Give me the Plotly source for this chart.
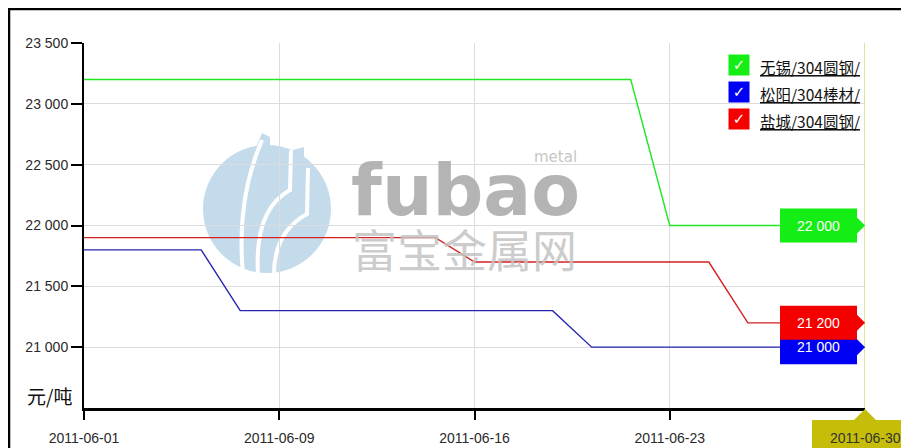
import plotly.graph_objects as go

# ---------------- data ----------------
dates = ["2011-06-01", "2011-06-02", "2011-06-03", "2011-06-07", "2011-06-08",
         "2011-06-09", "2011-06-10", "2011-06-13", "2011-06-14", "2011-06-15",
         "2011-06-16", "2011-06-17", "2011-06-20", "2011-06-21", "2011-06-22",
         "2011-06-23", "2011-06-24", "2011-06-27", "2011-06-28", "2011-06-29",
         "2011-06-30"]

wuxi = [23200, 23200, 23200, 23200, 23200, 23200, 23200, 23200, 23200, 23200,
        23200, 23200, 23200, 23200, 23200, 22000, 22000, 22000, 22000, 22000,
        22000]
songyang = [21800, 21800, 21800, 21800, 21300, 21300, 21300, 21300, 21300, 21300,
            21300, 21300, 21300, 21000, 21000, 21000, 21000, 21000, 21000, 21000,
            21000]
yancheng = [21900, 21900, 21900, 21900, 21900, 21900, 21900, 21900, 21900, 21900,
            21700, 21700, 21700, 21700, 21700, 21700, 21700, 21200, 21200, 21200,
            21200]

series_names = ["无锡/304圆钢/", "松阳/304棒材/", "盐城/304圆钢/"]
line_colors = ["#22e622", "#2424b0", "#d42020"]
flag_colors = ["#14ee14", "#0000f5", "#f50000"]

x_tick_labels = ["2011-06-01", "2011-06-09", "2011-06-16", "2011-06-23", "2011-06-30"]
y_ticks = [21000, 21500, 22000, 22500, 23000, 23500]
y_range = [20500, 23500]
y_unit = "元/吨"

# ---------------- layout helpers ----------------
# page body has an 8px default margin; work in window pixel coords
OFF = 8
WIN_W, WIN_H = 909, 448
W, H = WIN_W - OFF, WIN_H - OFF
L, R, T, B = 84, 865, 43, 408   # plot area in window pixels


def px(x):
    return (x - L) / (R - L)


def py(y):
    return (B - y) / (B - T)


fig = go.Figure()
all_series = [wuxi, songyang, yancheng]
for name, vals, col in zip(series_names, all_series, line_colors):
    fig.add_trace(go.Scatter(x=dates, y=vals, mode="lines", name=name,
                             line=dict(color=col, width=1.4), showlegend=False))

shapes = []
annotations = []

# outer frame (partially visible)
shapes.append(dict(type="rect", xref="paper", yref="paper",
                   x0=px(9), x1=px(1200), y0=py(700), y1=py(9),
                   line=dict(color="#000000", width=2.5), layer="below"))

# watermark logo circle with white stripes
logo_fill = "#c4dbeb"
shapes.append(dict(type="circle", xref="paper", yref="paper",
                   x0=px(203), x1=px(331), y0=py(273), y1=py(145),
                   fillcolor=logo_fill, line=dict(width=0), layer="below"))
shapes.append(dict(type="path", xref="paper", yref="paper",
                   path=f"M{px(262)},{py(133)} L{px(270)},{py(137)} L{px(270)},{py(150)} L{px(255)},{py(150)} Z",
                   fillcolor=logo_fill, line=dict(width=0), layer="below"))
shapes.append(dict(type="path", xref="paper", yref="paper",
                   path=f"M{px(293)},{py(150)} L{px(304)},{py(147)} L{px(304)},{py(160)} L{px(293)},{py(160)} Z",
                   fillcolor=logo_fill, line=dict(width=0), layer="below"))
for path in [
    f"M{px(243)},{py(274)} Q{px(236)},{py(200)} {px(262)},{py(140)}",
    f"M{px(258)},{py(274)} Q{px(254)},{py(210)} {px(290)},{py(190)} L{px(291)},{py(150)}",
    f"M{px(274)},{py(274)} Q{px(274)},{py(232)} {px(307)},{py(214)} L{px(308)},{py(168)}",
]:
    shapes.append(dict(type="path", xref="paper", yref="paper", path=path,
                       line=dict(color="white", width=4), layer="below"))

wm_col = "rgba(172,172,172,0.9)"
annotations.append(dict(xref="paper", yref="paper", x=px(349), y=py(190),
                        xanchor="left", yanchor="middle", text="<b>fubao</b>", showarrow=False,
                        font=dict(family="DejaVu Sans", size=71, color=wm_col)))
annotations.append(dict(xref="paper", yref="paper", x=px(579), y=py(157),
                        xanchor="right", yanchor="middle", text="metal", showarrow=False,
                        font=dict(family="DejaVu Sans", size=15, color="rgba(190,190,190,0.9)")))
annotations.append(dict(xref="paper", yref="paper", x=px(350), y=py(248),
                        xanchor="left", yanchor="middle", text="富宝金属网", showarrow=False,
                        font=dict(family="Noto Sans CJK SC", size=45, color="rgba(195,195,195,0.85)")))

# crosshair at last date
shapes.append(dict(type="line", xref="x", yref="paper", x0=len(dates) - 1, x1=len(dates) - 1,
                   y0=0, y1=1, line=dict(color="#cfcf60", width=1.2), layer="above"))

# value flags at the crosshair (blue first, then red above, green)
order = [1, 2, 0]
for i in order:
    v = all_series[i][-1]
    shapes.append(dict(type="path", xref="paper", yref="y",
                       xsizemode="pixel", ysizemode="pixel",
                       xanchor=1, yanchor=v,
                       path="M-85,-17 L-8,-17 L-8,-8 L0,0 L-8,8 L-8,17 L-85,17 Z",
                       fillcolor=flag_colors[i], line=dict(width=0), layer="above"))
    annotations.append(dict(xref="x", yref="y", x=len(dates) - 1, y=v, xshift=-47,
                            xanchor="center", yanchor="middle",
                            text=f"{v:,}".replace(",", " "), showarrow=False,
                            font=dict(family="Liberation Sans", size=14, color="white")))

# date flag at bottom (covers the last tick label)
shapes.append(dict(type="path", xref="paper", yref="paper",
                   xsizemode="pixel", ysizemode="pixel",
                   xanchor=1, yanchor=0,
                   path="M-53,-12 L-11,-12 L0,-1 L11,-12 L60,-12 L60,-50 L-53,-50 Z",
                   fillcolor="#c6bd08", line=dict(width=0), layer="above"))
annotations.append(dict(xref="x", yref="paper", x=len(dates) - 1, y=0, yshift=-30,
                        xanchor="center", yanchor="middle", text=dates[-1], showarrow=False,
                        font=dict(family="Liberation Sans", size=14, color="#333333")))

# legend (checkbox style)
leg_y = [65, 92, 119]
for name, col, yy in zip(series_names, flag_colors, leg_y):
    annotations.append(dict(xref="paper", yref="paper", x=px(739), y=py(yy),
                            xanchor="center", yanchor="middle", text="<b>✓</b>",
                            showarrow=False, bgcolor=col, width=18, height=18,
                            font=dict(family="DejaVu Sans", size=15, color="white")))
    annotations.append(dict(xref="paper", yref="paper", x=px(758), y=py(yy + 2),
                            xanchor="left", yanchor="middle", text=f"<u>{name}</u>",
                            showarrow=False,
                            font=dict(family="Noto Sans CJK SC", size=15.5, color="#111111")))

# y unit label
annotations.append(dict(xref="paper", yref="paper", x=px(49), y=py(395),
                        xanchor="center", yanchor="middle", text=y_unit, showarrow=False,
                        font=dict(family="Noto Sans CJK SC", size=19, color="#111111")))

fig.update_layout(
    width=W, height=H,
    margin=dict(l=L - OFF, r=WIN_W - R, t=T - OFF, b=WIN_H - B, autoexpand=False),
    paper_bgcolor="white", plot_bgcolor="white",
    shapes=shapes, annotations=annotations,
    showlegend=False,
    xaxis=dict(type="category", range=[0, len(dates) - 1], automargin=False,
               tickmode="array", tickvals=x_tick_labels,
               ticktext=x_tick_labels[:-1] + [""],
               showgrid=True, gridcolor="#dcdcdc", gridwidth=1,
               showline=True, linecolor="#000000", linewidth=3,
               ticks="outside", ticklen=9, tickwidth=1.5, tickcolor="#000000",
               ticklabelstandoff=6,
               tickfont=dict(family="Liberation Sans", size=14, color="#2a2a2a"),
               zeroline=False, fixedrange=True),
    yaxis=dict(range=y_range, tickmode="array", tickvals=y_ticks, automargin=False,
               ticktext=[f"{v:,}".replace(",", " ") for v in y_ticks],
               showgrid=True, gridcolor="#dcdcdc", gridwidth=1,
               showline=True, linecolor="#000000", linewidth=2,
               ticks="outside", ticklen=11, tickwidth=1.5, tickcolor="#000000",
               tickfont=dict(family="Liberation Sans", size=14, color="#2a2a2a"),
               zeroline=False, fixedrange=True),
)

fig.write_html("out.html")
